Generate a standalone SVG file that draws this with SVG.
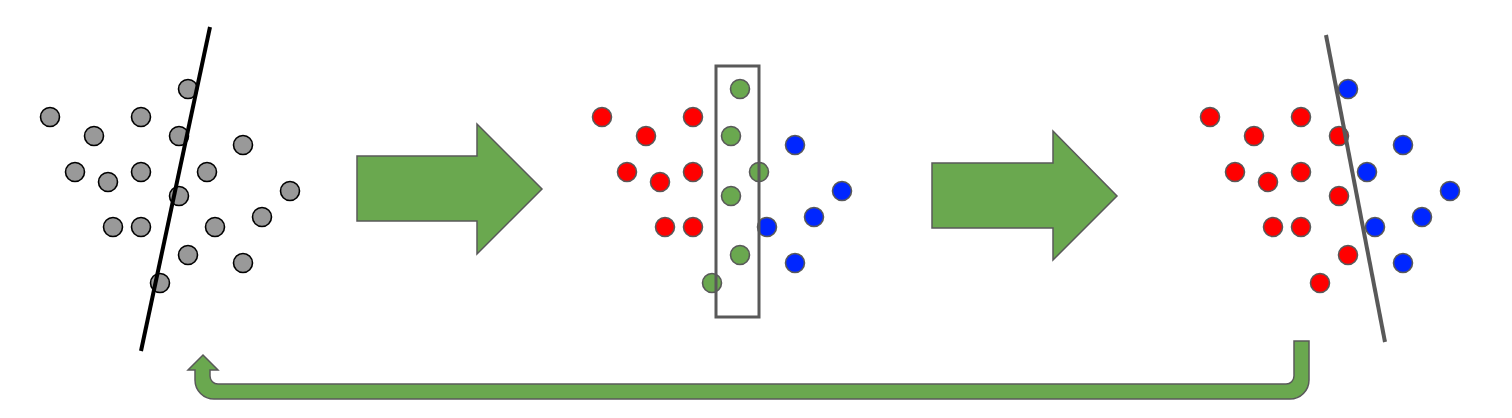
<svg xmlns="http://www.w3.org/2000/svg" width="1512" height="418" viewBox="0 0 1512 418">
<style>
.c{stroke-width:1.6}
.g{fill:#999999;stroke:#000000}
.r{fill:#ff0000;stroke:#595959}
.b{fill:#0026ff;stroke:#595959}
.v{fill:#6aa84f;stroke:#595959}
.arrow{fill:#6aa84f;stroke:#595959;stroke-width:1.5;stroke-linejoin:miter}
</style>
<rect width="1512" height="418" fill="#ffffff"/>
<g id="panel1">
<g class="c g">
<circle cx="50" cy="117" r="9.5"/><circle cx="94" cy="136" r="9.5"/><circle cx="141" cy="117" r="9.5"/><circle cx="188" cy="89" r="9.5"/>
<circle cx="179" cy="136" r="9.5"/><circle cx="243" cy="145" r="9.5"/><circle cx="75" cy="172" r="9.5"/><circle cx="108" cy="182" r="9.5"/>
<circle cx="141" cy="172" r="9.5"/><circle cx="207" cy="172" r="9.5"/><circle cx="179" cy="196" r="9.5"/><circle cx="290" cy="191" r="9.5"/>
<circle cx="113" cy="227" r="9.5"/><circle cx="141" cy="227" r="9.5"/><circle cx="215" cy="227" r="9.5"/><circle cx="262" cy="217" r="9.5"/>
<circle cx="188" cy="255" r="9.5"/><circle cx="243" cy="263" r="9.5"/><circle cx="160" cy="283" r="9.5"/>
</g>
<line x1="210" y1="27" x2="141" y2="351" stroke="#000000" stroke-width="4"/>
</g>
<g id="arrow1"><path class="arrow" d="M357,156 L477,156 L477,124 L542,189 L477,254 L477,221 L357,221 Z"/></g>
<g id="panel2" transform="translate(552,0)">
<g class="c">
<circle class="r" cx="50" cy="117" r="9.5"/><circle class="r" cx="94" cy="136" r="9.5"/><circle class="r" cx="141" cy="117" r="9.5"/><circle class="v" cx="188" cy="89" r="9.5"/>
<circle class="v" cx="179" cy="136" r="9.5"/><circle class="b" cx="243" cy="145" r="9.5"/><circle class="r" cx="75" cy="172" r="9.5"/><circle class="r" cx="108" cy="182" r="9.5"/>
<circle class="r" cx="141" cy="172" r="9.5"/><circle class="v" cx="207" cy="172" r="9.5"/><circle class="v" cx="179" cy="196" r="9.5"/><circle class="b" cx="290" cy="191" r="9.5"/>
<circle class="r" cx="113" cy="227" r="9.5"/><circle class="r" cx="141" cy="227" r="9.5"/><circle class="b" cx="215" cy="227" r="9.5"/><circle class="b" cx="262" cy="217" r="9.5"/>
<circle class="v" cx="188" cy="255" r="9.5"/><circle class="b" cx="243" cy="263" r="9.5"/><circle class="v" cx="160" cy="283" r="9.5"/>
</g>
<rect x="164" y="66" width="43" height="251" fill="none" stroke="#595959" stroke-width="3"/>
</g>
<g id="arrow2"><path class="arrow" d="M932,163 L1053,163 L1053,131 L1117,196 L1053,260 L1053,228 L932,228 Z"/></g>
<g id="panel3" transform="translate(1160,0)">
<g class="c">
<circle class="r" cx="50" cy="117" r="9.5"/><circle class="r" cx="94" cy="136" r="9.5"/><circle class="r" cx="141" cy="117" r="9.5"/><circle class="b" cx="188" cy="89" r="9.5"/>
<circle class="r" cx="179" cy="136" r="9.5"/><circle class="b" cx="243" cy="145" r="9.5"/><circle class="r" cx="75" cy="172" r="9.5"/><circle class="r" cx="108" cy="182" r="9.5"/>
<circle class="r" cx="141" cy="172" r="9.5"/><circle class="b" cx="207" cy="172" r="9.5"/><circle class="r" cx="179" cy="196" r="9.5"/><circle class="b" cx="290" cy="191" r="9.5"/>
<circle class="r" cx="113" cy="227" r="9.5"/><circle class="r" cx="141" cy="227" r="9.5"/><circle class="b" cx="215" cy="227" r="9.5"/><circle class="b" cx="262" cy="217" r="9.5"/>
<circle class="r" cx="188" cy="255" r="9.5"/><circle class="b" cx="243" cy="263" r="9.5"/><circle class="r" cx="160" cy="283" r="9.5"/>
</g>
<line x1="166" y1="35" x2="225" y2="342" stroke="#595959" stroke-width="4"/>
</g>
<g id="connectors">
<path class="arrow" d="M1294,341 L1309,341 L1309,380 A19,19 0 0 1 1290,399 L214,399 A19,19 0 0 1 195,380 L195,370 L188,370 L203,355 L218,370 L210,370 L210,376 A8,8 0 0 0 218,384 L1286,384 A8,8 0 0 0 1294,376 Z"/>
</g>
</svg>
